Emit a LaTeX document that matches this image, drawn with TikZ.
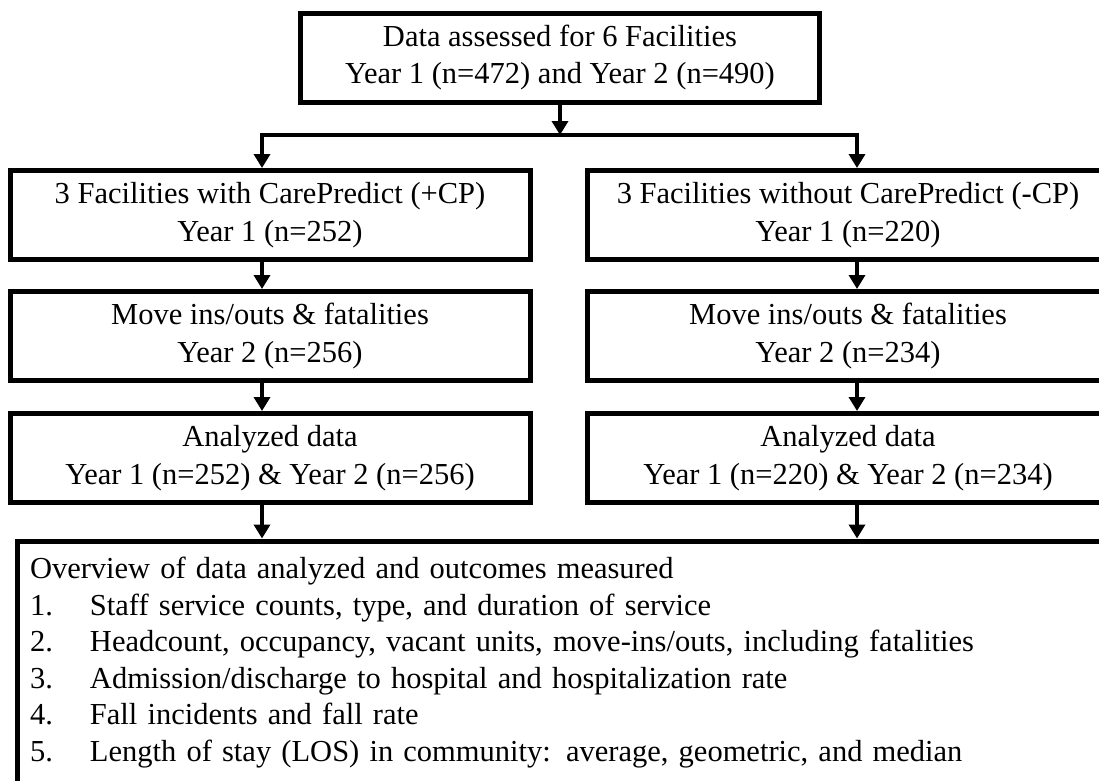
\documentclass[tikz,border=0pt]{standalone}
\usepackage{fontspec}
\setmainfont{Liberation Serif}
\usetikzlibrary{arrows.meta,positioning}

\tikzset{
  box/.style={draw, line width=5pt, minimum width=520pt, minimum height=89pt, align=center, inner sep=0pt, font=\fontsize{30.5}{37.5}\selectfont},
  arr/.style={line width=4pt, -{Triangle[width=16pt,length=14pt]}},
}

\newcommand{\itm}[1]{\makebox[60pt][l]{#1}}

\begin{document}
\begin{tikzpicture}[x=1pt,y=-1pt]

\clip (0,0) rectangle (1099,780);

\node[box, minimum width=519pt, minimum height=89pt] (data) at (560,57.5) {Data assessed for 6 Facilities\\Year 1 (n=472) and Year 2 (n=490)};

% left column
\node[box] (withcp) at (270,215) {3 Facilities with CarePredict (+CP)\\Year 1 (n=252)};
\node[box] (moveL) at (270,336) {Move ins/outs \& fatalities\\Year 2 (n=256)};
\node[box] (anaL) at (270,458) {Analyzed data\\Year 1 (n=252) \& Year 2 (n=256)};

% right column
\node[box, minimum width=522pt] (nocp) at (848,215) {3 Facilities without CarePredict (-CP)\\Year 1 (n=220)};
\node[box, minimum width=522pt] (moveR) at (848,336) {Move ins/outs \& fatalities\\Year 2 (n=234)};
\node[box, minimum width=522pt] (anaR) at (848,458) {Analyzed data\\Year 1 (n=220) \& Year 2 (n=234)};

\node[box, anchor=north west, minimum width=1100pt, minimum height=243pt, align=left, inner xsep=13pt, text width=1074pt, font=\fontsize{30.5}{36.5}\selectfont] (overview) at (14.5,538.5) {Overview of data analyzed and outcomes measured\\
\itm{1.}Staff service counts, type, and duration of service\\
\itm{2.}Headcount, occupancy, vacant units, move-ins/outs, including fatalities\\
\itm{3.}Admission/discharge to hospital and hospitalization rate\\
\itm{4.}Fall incidents and fall rate\\
\itm{5.}Length of stay (LOS) in community: average, geometric, and median};

\coordinate (split) at (560,135);
\coordinate (jl) at (262,135);
\coordinate (jr) at (857,135);

\draw[arr] (data.south -| split) -- (split);
\draw[arr] (split) -| (withcp.north -| jl);
\draw[arr] (split) -| (nocp.north -| jr);

\draw[arr] (withcp.south -| jl) -- (moveL.north -| jl);
\draw[arr] (moveL.south -| jl) -- (anaL.north -| jl);
\draw[arr] (anaL.south -| jl) -- (overview.north -| jl);

\draw[arr] (nocp.south -| jr) -- (moveR.north -| jr);
\draw[arr] (moveR.south -| jr) -- (anaR.north -| jr);
\draw[arr] (anaR.south -| jr) -- (overview.north -| jr);

\end{tikzpicture}
\end{document}
